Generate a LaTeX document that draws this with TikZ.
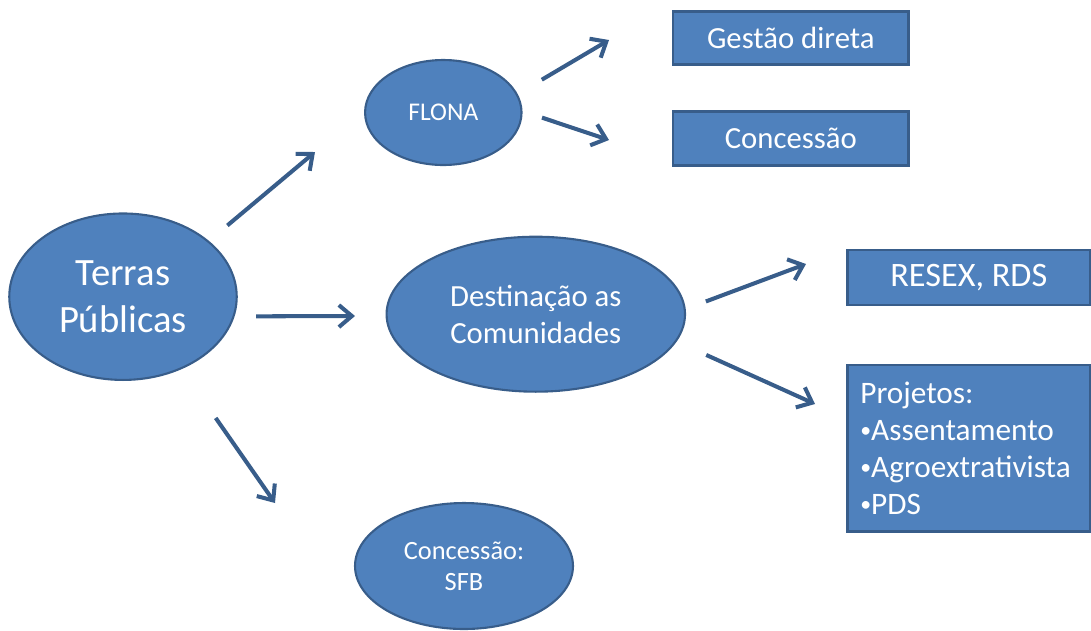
\documentclass[tikz,border=0pt]{standalone}
\usepackage{fontspec}
\setmainfont{Carlito}
\usepackage{tikz}
\usetikzlibrary{arrows.meta, shapes.geometric}
\definecolor{officeblue}{HTML}{4F81BD}
\definecolor{officeline}{HTML}{385D8A}
\newcommand{\nodecolor}{officeblue}
\newcommand{\bordercolor}{officeline}
\newcommand{\arrowcolor}{officeline}
\newcommand{\smallbullet}{\raisebox{0.1em}{\scalebox{0.7}{•}}}

\begin{document}
\begin{tikzpicture}[
      % GLOBAL CFG
      x=0.02cm, y=-0.02cm,
      font=\fontsize{17.5}{21}\selectfont,
      % Styles
      region/.style={% For the ellipses
        ellipse,
        draw=\bordercolor,
        fill=\nodecolor,
        line width=1.2pt,
        text=white,
        inner sep=0pt,
        align=center
      },
      dest/.style={% For the boxes
        rectangle,
        draw=\bordercolor,
        fill=\nodecolor,
        line width=1.5pt,
        text=white,
        inner sep=0pt,
        minimum width=4.72cm
      },
      arrowflow/.style={% Arrows between the parts
        draw=\arrowcolor,
        line width=2.3pt,
        -{Straight Barb[length=2.6mm,width=4.4mm]}
      }
      ]
      \useasboundingbox (0,0) rectangle (1091,630);

      % The ellipses
      \node [region, minimum width=4.55cm, minimum height=3.33cm,
        font=\fontsize{22}{27}\selectfont] (terras) at (123,296.7) {Terras\\Públicas};
      \node [region, minimum width=3.13cm, minimum height=2.1cm,
        font=\fontsize{14.5}{17}\selectfont] (flona) at (443.3,112.5) {FLONA};
      \node [region, minimum width=5.97cm, minimum height=3.1cm] (destino) at (535.8,314.2)
        {Destinação as\\Comunidades};
      \node [region, minimum width=4.36cm, minimum height=2.52cm,
        font=\fontsize{15}{17.6}\selectfont] (sfb) at (464,566) {Concessão:\\SFB};

      % The boxes
      \node [dest, minimum height=1.06cm] (gestao) at (790.8,38.3) {Gestão direta};
      \node [dest, minimum height=1.08cm] (concessao) at (790.8,138.8) {Concessão};
      \node [dest, minimum width=4.86cm, minimum height=1.1cm,
        font=\fontsize{19.5}{23}\selectfont] (resex) at (968.8,277.5) {RESEX, RDS};
      \node [dest, minimum height=3.34cm, text width=4.34cm, inner xsep=0.26cm,
        align=left, font=\fontsize{17.8}{21}\selectfont] (projetos) at (968.8,448.3)
        {Projetos:\\\smallbullet Assentamento\\\smallbullet Agroextrativista\\\smallbullet PDS};

      % Arrow tips
      \coordinate (tipflona) at (315,152);
      \coordinate (tipdestino) at (355,316);
      \coordinate (tipsfb) at (275,503);
      \coordinate (tipgestao) at (609,40);
      \coordinate (tipconcessao) at (609,140);
      \coordinate (tipresex) at (806,264);
      \coordinate (tipprojetos) at (815,404);

      % The arrows
      \draw [arrowflow, shorten <=0.48cm] (terras.33) -- (tipflona);
      \draw [arrowflow, shorten <=0.43cm] (terras.-10) -- (tipdestino);
      \draw [arrowflow, shorten <=1.19cm] (terras.-51) -- (tipsfb);
      \draw [arrowflow, shorten <=0.56cm] (flona.14) -- (tipgestao);
      \draw [arrowflow, shorten <=0.41cm] (flona.1) -- (tipconcessao);
      \draw [arrowflow, shorten <=0.43cm] (destino.2) -- (tipresex);
      \draw [arrowflow, shorten <=0.65cm] (destino.-11) -- (tipprojetos);

    \end{tikzpicture}
\end{document}
